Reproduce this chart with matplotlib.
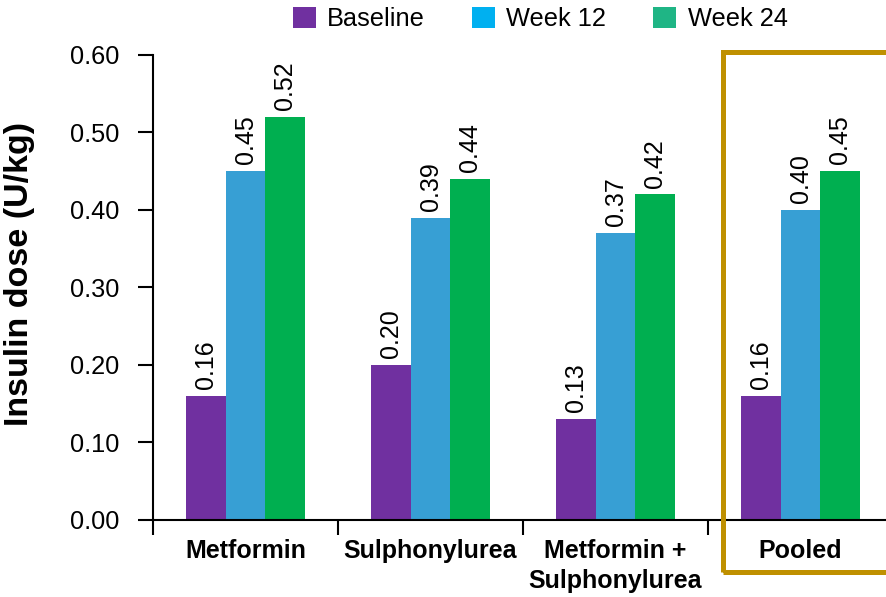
import matplotlib.pyplot as plt
import numpy as np
from matplotlib.patches import Patch, Rectangle

plt.rcParams['font.family'] = ['Liberation Sans', 'DejaVu Sans']

# Dosis de insulina por grupo
grupos = ['Metformin', 'Sulphonylurea', 'Metformin +\nSulphonylurea', 'Pooled']
series = ['Baseline', 'Week 12', 'Week 24']
baseline = [0.16, 0.20, 0.13, 0.16]
week12 = [0.45, 0.39, 0.37, 0.40]
week24 = [0.52, 0.44, 0.42, 0.45]

colores_barra = ['#7030A0', '#379FD4', '#00AF50']
colores_leyenda = ['#7030A0', '#00B0F0', '#1FB585']

fig = plt.figure(figsize=(8.87, 5.97), dpi=100)
ax = fig.add_axes([0.1725, 0.129, 0.8343, 0.7789])

x = np.arange(len(grupos)) + 0.5
w = 0.213
for k, valores in enumerate([baseline, week12, week24]):
    pos = x + (k - 1) * w
    ax.bar(pos, valores, width=w, color=colores_barra[k], linewidth=0)
    for xi, v in zip(pos, valores):
        ax.annotate(f'{v:.2f}', (xi, v), xytext=(0, 5), textcoords='offset points',
                    rotation=90, ha='center', va='bottom', fontsize=18)

ax.set_xlim(0, 4)
ax.set_ylim(0, 0.6)
ax.set_yticks(np.arange(0, 0.61, 0.1))
ax.set_yticklabels([f'{t:.2f}' for t in np.arange(0, 0.61, 0.1)])
ax.tick_params(axis='y', labelsize=18.3, length=11, width=1.5, pad=13)

# divisiones entre grupos y etiquetas centradas
ax.set_xticks(np.arange(0, 5))
ax.set_xticklabels([])
ax.set_xticks(x, minor=True)
ax.set_xticklabels(grupos, minor=True, fontsize=18, fontweight='bold', linespacing=1.3)
ax.tick_params(axis='x', which='major', length=11, width=1.5)
ax.tick_params(axis='x', which='minor', length=0, pad=14)

for s in ['top', 'right']:
    ax.spines[s].set_visible(False)
for s in ['left', 'bottom']:
    ax.spines[s].set_linewidth(1.5)

ax.set_ylabel('Insulin dose (U/kg)', fontsize=24.5, fontweight='bold')
ax.yaxis.set_label_coords(-0.159, 0.53)

manejadores = [Patch(facecolor=c, label=s) for c, s in zip(colores_leyenda, series)]
fig.legend(handles=manejadores, loc='center', bbox_to_anchor=(0.609, 0.968), ncol=3,
           frameon=False, fontsize=18.3, handlelength=0.9, handleheight=0.9,
           handletextpad=0.45, columnspacing=1.85)

# recuadro del grupo combinado
fig.patches.append(Rectangle((0.815, 0.0419), 0.3, 0.871, transform=fig.transFigure,
                             fill=False, edgecolor='#BF9000', linewidth=3.6))

fig.savefig('out.png', dpi=100)
